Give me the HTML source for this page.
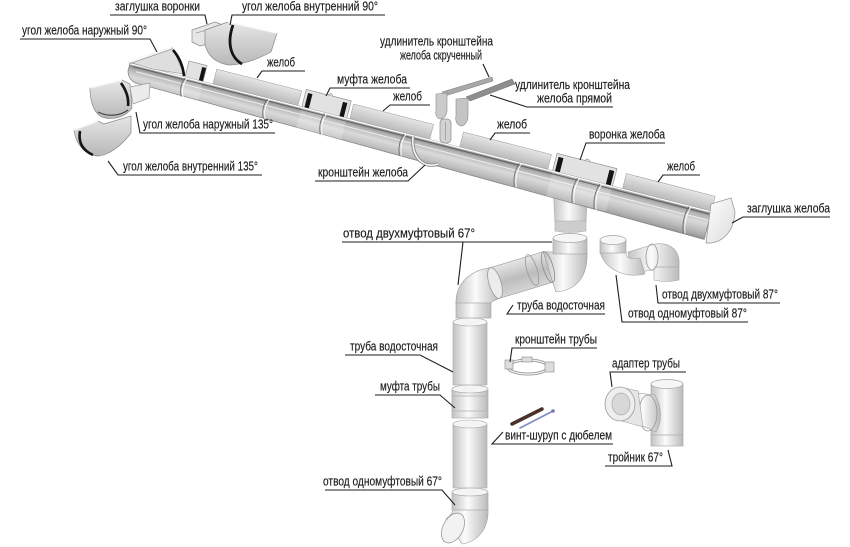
<!DOCTYPE html>
<html><head><meta charset="utf-8"><style>
html,body{margin:0;padding:0;background:#fff;}
svg{display:block}
text{font-family:"Liberation Sans",Arial,sans-serif;font-size:12.8px;fill:#1a1a1a;stroke:#1a1a1a;stroke-width:0.15;}
</style></head><body>
<svg width="850" height="547" viewBox="0 0 850 547" xmlns="http://www.w3.org/2000/svg">
<defs>
<linearGradient id="gb" x1="0" y1="0" x2="0" y2="1">
 <stop offset="0" stop-color="#f0f0f0"/>
 <stop offset="0.09" stop-color="#8a8a8a"/>
 <stop offset="0.2" stop-color="#b4b4b4"/>
 <stop offset="0.45" stop-color="#dadada"/>
 <stop offset="0.7" stop-color="#c0c0c0"/>
 <stop offset="0.9" stop-color="#a6a6a6"/>
 <stop offset="1" stop-color="#8a8a8a"/>
</linearGradient>
<linearGradient id="gw" x1="0" y1="0" x2="0" y2="1">
 <stop offset="0" stop-color="#e6e6e6"/><stop offset="1" stop-color="#b8b8b8"/>
</linearGradient>
<linearGradient id="pg" x1="0" y1="0" x2="1" y2="0">
 <stop offset="0" stop-color="#c2c2c2"/><stop offset="0.45" stop-color="#fbfbfb"/><stop offset="1" stop-color="#bababa"/>
</linearGradient>
<linearGradient id="pdg" gradientUnits="userSpaceOnUse" x1="511" y1="263" x2="520" y2="293">
 <stop offset="0" stop-color="#e2e2e2"/><stop offset="0.5" stop-color="#bdbdbd"/><stop offset="1" stop-color="#d6d6d6"/>
</linearGradient>
<linearGradient id="cap" x1="0" y1="0" x2="1" y2="1">
 <stop offset="0" stop-color="#ffffff"/><stop offset="1" stop-color="#dcdcdc"/>
</linearGradient>
</defs>

<!-- funnel outlet (behind gutter) -->
<path d="M553,185 L588,185 L586,222 L555,222 Z" fill="url(#pg)" stroke="#aaa" stroke-width="0.6"/>
<path d="M555,221 L586,221 L586,231 Q570,234 555,231 Z" fill="#cdcdcd" stroke="#aaa" stroke-width="0.6"/>

<!-- main gutter -->
<g transform="translate(130,63) rotate(14.31)">
 <g fill="url(#gw)" stroke="#9a9a9a" stroke-width="0.5">
  <rect x="85.6" y="-15.5" width="87.6" height="16"/>
  <rect x="226.8" y="-15.5" width="82.5" height="16"/>
  <rect x="340.2" y="-15.5" width="90.8" height="16"/>
  <rect x="508.3" y="-15.5" width="91.7" height="16"/>
 </g>
 <g fill="#e2e2e2" stroke="#8a8a8a" stroke-width="0.6">
  <rect x="56.7" y="-16.5" width="18.6" height="18"/>
  <rect x="177.3" y="-18" width="46.4" height="19"/>
  <rect x="436.1" y="-18" width="61.9" height="19"/>
 </g>
 <g fill="#151515">
  <rect x="71" y="-14" width="4" height="14"/>
  <rect x="180" y="-15" width="4.5" height="15"/>
  <rect x="216" y="-15" width="4.5" height="15"/>
  <rect x="438.5" y="-15" width="5" height="15"/>
  <rect x="491" y="-15" width="5" height="15"/>
 </g>
 <path d="M200,-18 q2,-4 5,0" fill="#ddd" stroke="#888" stroke-width="0.6"/>
 <path d="M465,-18 q2,-4 5,0" fill="#ddd" stroke="#888" stroke-width="0.6"/>
 <path d="M0,0 L600,0 L600,29 L10,18 Q2,16 0,8 Z" fill="url(#gb)" stroke="#808080" stroke-width="0.7"/>
 <g fill="#ffffff" opacity="0.22">
  <rect x="177.3" y="0" width="46.4" height="22"/>
  <rect x="436.1" y="0" width="61.9" height="26"/>
  <rect x="56.7" y="0" width="18.6" height="19"/>
 </g>
 <line x1="0" y1="0.6" x2="600" y2="0.6" stroke="#ffffff" stroke-width="1.2"/>
 <line x1="4" y1="2.6" x2="600" y2="3.2" stroke="#5e5e5e" stroke-width="0.9"/>
 <line x1="8" y1="7" x2="600" y2="9.5" stroke="#eeeeee" stroke-width="1"/>
 <g fill="none" stroke="#6e6e6e" stroke-width="0.9">
  <path d="M57,1 Q53,10 58,20"/>
  <path d="M142,1 Q138,11 143,21"/>
  <path d="M201,1 Q197,11 202,22"/>
  <path d="M283,1 Q279,12 284,23"/>
  <path d="M402,1 Q398,13 403,25"/>
  <path d="M462,1 Q458,13 463,26"/>
  <path d="M485,1 Q481,14 486,27"/>
  <path d="M577,1 Q573,14 578,28"/>
 </g>
 <g fill="none" stroke="#ffffff" stroke-width="0.9">
  <path d="M59,1 Q55,10 60,20"/>
  <path d="M144,1 Q140,11 145,21"/>
  <path d="M203,1 Q199,11 204,22"/>
  <path d="M285,1 Q281,12 286,23"/>
  <path d="M404,1 Q400,13 405,25"/>
  <path d="M464,1 Q460,13 465,26"/>
  <path d="M487,1 Q483,14 488,27"/>
  <path d="M579,1 Q575,14 580,28"/>
 </g>
</g>

<!-- outer 90 corner on gutter -->
<path d="M129,62 L172,47 L184,74 L152,69 Z" fill="#dedede" stroke="#8a8a8a" stroke-width="0.6"/>
<path d="M129,62 L172,47" stroke="#f8f8f8" stroke-width="2"/>
<path d="M129,64 L172,49" stroke="#888" stroke-width="0.6"/>
<path d="M173,50 C180,58 183,66 184,76" fill="none" stroke="#111" stroke-width="2.6"/>

<!-- end cap -->
<path d="M711,204 L731,198 L735,212 C734,232 722,244 706,243 Z" fill="url(#cap)" stroke="#9a9a9a" stroke-width="0.8"/>

<!-- gutter bracket hook -->
<path d="M413,136 C411,158 424,169 438,164" fill="none" stroke="#8a8a8a" stroke-width="3.4"/>
<path d="M413,136 C411,158 424,169 438,164" fill="none" stroke="#f4f4f4" stroke-width="1.6"/>
<rect x="440" y="119" width="11" height="24" rx="4" fill="#d2d2d2" stroke="#8a8a8a" stroke-width="0.7"/>
<line x1="445.5" y1="122" x2="445.5" y2="140" stroke="#999" stroke-width="0.8"/>

<!-- bracket extensions -->
<polygon points="442,92 492,77 493,81 445,96" fill="#a8a8a8" stroke="#7a7a7a" stroke-width="0.5"/>
<path d="M436,94 L447,93 L447,110 C447,117 442,119 440,119 C437,118 435,115 436,110 Z" fill="#cacaca" stroke="#8a8a8a" stroke-width="0.6"/>
<polygon points="466,97 512,79 515,84 470,101" fill="#8e8e8e" stroke="#6a6a6a" stroke-width="0.5"/>
<path d="M456,99 L468,98 L468,116 C468,123 463,126 461,126 C457,125 455,121 456,116 Z" fill="#c4c4c4" stroke="#8a8a8a" stroke-width="0.6"/>

<!-- top pieces -->
<path d="M192,30 L215,22 L223,25 L223,40 L200,46 L192,42 Z" fill="#e6e6e6" stroke="#8a8a8a" stroke-width="0.7"/>
<path d="M196,33 L218,27" stroke="#9a9a9a" stroke-width="0.7"/>
<path d="M205,30 L228,22 L277,33 L271,52 C256,60 241,65 229,65 C216,63 208,56 205,45 Z" fill="url(#gw)" stroke="#888" stroke-width="0.7"/>
<path d="M228,22 L277,33" stroke="#fafafa" stroke-width="1.5"/>
<path d="M233,25 C227,42 230,57 242,64" fill="none" stroke="#141414" stroke-width="2.8"/>

<!-- outer 135 -->
<path d="M90,88 L122,80 L130,84 L132,108 C125,118 110,121 100,116 C93,111 90,100 90,88 Z" fill="url(#gw)" stroke="#888" stroke-width="0.7"/>
<path d="M90,88 L122,80" stroke="#f6f6f6" stroke-width="1.6"/>
<path d="M121,83 C126,90 129,98 128,106" fill="none" stroke="#141414" stroke-width="2.6"/>
<path d="M98,112 C108,117 120,116 128,110" fill="none" stroke="#444" stroke-width="1.2"/>
<path d="M130,87 L150,83 L149,98 L133,104 Z" fill="#ececec" stroke="#999" stroke-width="0.7"/>

<!-- inner 135 -->
<path d="M74,130 L98,121 L104,124 L131,116 L131,133 C122,145 110,155 98,156 C85,155 76,145 74,130 Z" fill="url(#gw)" stroke="#888" stroke-width="0.7"/>
<path d="M74,130 L98,121" stroke="#f6f6f6" stroke-width="1.6"/>
<path d="M80,131 C78,142 82,150 93,155" fill="none" stroke="#141414" stroke-width="2.6"/>

<!-- downpipe assembly -->
<polygon points="490.3,267.7 543.3,251.7 552.7,282.3 499.7,298.3" fill="url(#pdg)" stroke="#9a9a9a" stroke-width="0.6"/>
<ellipse cx="532" cy="270" rx="5" ry="16" transform="rotate(-17 532 270)" fill="none" stroke="#999" stroke-width="0.8"/>
<path d="M553,252 L587,252 C588,275 578,290 556,292 L552.7,282.3 L543.3,251.7 Z" fill="url(#pg)" stroke="#9a9a9a" stroke-width="0.6"/>
<ellipse cx="548" cy="267" rx="5" ry="16" transform="rotate(-17 548 267)" fill="none" stroke="#888" stroke-width="0.8"/>
<rect x="553" y="238" width="34" height="16" fill="url(#pg)" stroke="#a0a0a0" stroke-width="0.6"/>
<ellipse cx="570" cy="238" rx="17" ry="4.5" fill="#f6f6f6" stroke="#a0a0a0" stroke-width="0.7"/>
<path d="M490.3,267.7 L499.7,298.3 C494,300 490,302 490,305 L456,305 C455,285 468,271 490.3,267.7 Z" fill="url(#pg)" stroke="#9a9a9a" stroke-width="0.6"/>
<ellipse cx="495" cy="283" rx="6" ry="16" transform="rotate(-17 495 283)" fill="#ececec" stroke="#999" stroke-width="0.8"/>
<rect x="456" y="303" width="35" height="15" fill="url(#pg)" stroke="#a0a0a0" stroke-width="0.6"/>
<rect x="453" y="322" width="34" height="63" fill="url(#pg)" stroke="#a8a8a8" stroke-width="0.6"/>
<ellipse cx="470" cy="322" rx="17" ry="4" fill="#f4f4f4" stroke="#a8a8a8" stroke-width="0.6"/>
<rect x="452" y="389" width="36" height="29" fill="url(#pg)" stroke="#a0a0a0" stroke-width="0.6"/>
<ellipse cx="470" cy="389" rx="18" ry="4" fill="#f4f4f4" stroke="#a0a0a0" stroke-width="0.6"/>
<line x1="452" y1="396" x2="488" y2="396" stroke="#b0b0b0" stroke-width="0.8"/>
<line x1="452" y1="411" x2="488" y2="411" stroke="#b0b0b0" stroke-width="0.8"/>
<rect x="453" y="424" width="34" height="64" fill="url(#pg)" stroke="#a8a8a8" stroke-width="0.6"/>
<ellipse cx="470" cy="424" rx="17" ry="4" fill="#f4f4f4" stroke="#a8a8a8" stroke-width="0.6"/>
<path d="M453,509 L488,509 C489,528 478,542 462,544 L446,519 C450,516 453,513 453,509 Z" fill="url(#pg)" stroke="#a0a0a0" stroke-width="0.6"/>
<rect x="452" y="492" width="36" height="18" fill="url(#pg)" stroke="#a0a0a0" stroke-width="0.6"/>
<ellipse cx="470" cy="492" rx="18" ry="4" fill="#f4f4f4" stroke="#a0a0a0" stroke-width="0.6"/>
<ellipse cx="453" cy="528" rx="10" ry="16" transform="rotate(28 453 528)" fill="#f2f2f2" stroke="#9a9a9a" stroke-width="0.8"/>

<!-- right elbows 87 -->
<path d="M628,252 L655,244 C672,242 680,252 679,265 L679,280 Q666,283 654,280 L654,270 C648,270 640,272 632,274 Z" fill="url(#pg)" stroke="#a0a0a0" stroke-width="0.6"/>
<ellipse cx="652" cy="257" rx="6" ry="13" fill="none" stroke="#999" stroke-width="0.8"/>
<line x1="654" y1="267" x2="679" y2="267" stroke="#aaa" stroke-width="0.7"/>
<path d="M600,252 L626,252 C626,258 630,260 640,258 L645,274 C628,278 606,272 600,252 Z" fill="url(#pg)" stroke="#a0a0a0" stroke-width="0.6"/>
<rect x="600" y="240" width="26" height="13" fill="url(#pg)" stroke="#a0a0a0" stroke-width="0.6"/>
<ellipse cx="613" cy="240" rx="13" ry="4.5" fill="#f6f6f6" stroke="#a0a0a0" stroke-width="0.7"/>

<!-- pipe bracket -->
<ellipse cx="528" cy="367" rx="20" ry="7" fill="none" stroke="#9a9a9a" stroke-width="3"/>
<ellipse cx="528" cy="367" rx="20" ry="7" fill="none" stroke="#f2f2f2" stroke-width="1.2"/>
<rect x="505" y="360" width="8" height="9" fill="#ddd" stroke="#888" stroke-width="0.6"/>
<rect x="545" y="362" width="9" height="10" fill="#ddd" stroke="#888" stroke-width="0.6"/>
<rect x="522" y="357" width="10" height="5" fill="#ddd" stroke="#888" stroke-width="0.6"/>

<!-- screw + dowel -->
<line x1="512" y1="424" x2="542" y2="409" stroke="#4a3228" stroke-width="3.5" stroke-linecap="round"/>
<line x1="520" y1="428" x2="553" y2="411" stroke="#7d8cc0" stroke-width="1.6" stroke-linecap="round"/>
<circle cx="553" cy="411" r="1.8" fill="#6a7ab0"/>

<!-- tee + adapter -->
<rect x="651" y="384" width="32" height="62" fill="url(#pg)" stroke="#a0a0a0" stroke-width="0.6"/>
<ellipse cx="667" cy="384" rx="16" ry="4.5" fill="#f6f6f6" stroke="#a0a0a0" stroke-width="0.7"/>
<line x1="651" y1="435" x2="683" y2="435" stroke="#aaa" stroke-width="0.7"/>
<path d="M628,392 L655,395 C661,405 663,420 656,432 L632,421 Z" fill="url(#pg)" stroke="#a0a0a0" stroke-width="0.6"/>
<ellipse cx="648" cy="413" rx="9" ry="18" fill="none" stroke="#999" stroke-width="0.8"/>
<path d="M620,387 L638,391 L643,427 L622,421 Z" fill="#e6e6e6" stroke="#a0a0a0" stroke-width="0.6"/>
<ellipse cx="620" cy="404" rx="15" ry="17" fill="#eeeeee" stroke="#999" stroke-width="0.8"/>
<ellipse cx="621" cy="404" rx="9" ry="11" fill="#d8d8d8" stroke="#aaa" stroke-width="0.7"/>

<!-- leaders -->
<g fill="none" stroke="#1e1e1e" stroke-width="1.1">
 <polyline points="110,15 205,15 207,24"/>
 <polyline points="385,15 232,15 230,25"/>
 <polyline points="20,39 150,39 157,52"/>
 <polyline points="305,71 262,71 257,78"/>
 <polyline points="410,88 330,88 326,96"/>
 <polyline points="430,105 390,105 383,111"/>
 <polyline points="483,64 489,77"/>
 <polyline points="613,107 527,107 490,95"/>
 <polyline points="275,133 140,133 136,112"/>
 <polyline points="262,175 118,175 108,161"/>
 <polyline points="315,181 408,181 425,165"/>
 <polyline points="530,133 495,133 490,140"/>
 <polyline points="665,143 586,143 580,160"/>
 <polyline points="700,175 663,175 658,182"/>
 <polyline points="830,217 743,217 732,223"/>
 <polyline points="342,242 552,242"/>
 <polyline points="463,242 458,285"/>
 <polyline points="605,314 507,314 513,305"/>
 <polyline points="780,303 658,303 656,285"/>
 <polyline points="748,322 622,322 616,275"/>
 <polyline points="345,355 420,355 453,372"/>
 <polyline points="597,348 512,348 510,362"/>
 <polyline points="686,372 610,372 612,387"/>
 <polyline points="375,395 440,395 455,408"/>
 <polyline points="613,444 492,444 503,432"/>
 <polyline points="605,466 672,466 668,450"/>
 <polyline points="325,490 442,490 455,505"/>
</g>

<!-- labels -->
<text x="115" y="10.5" textLength="85" lengthAdjust="spacingAndGlyphs">заглушка воронки</text>
<text x="242" y="10.5" textLength="136" lengthAdjust="spacingAndGlyphs">угол желоба внутренний 90°</text>
<text x="22" y="34.5" textLength="125" lengthAdjust="spacingAndGlyphs">угол желоба наружный 90°</text>
<text x="267" y="66.5" textLength="28" lengthAdjust="spacingAndGlyphs">желоб</text>
<text x="337" y="83.5" textLength="70" lengthAdjust="spacingAndGlyphs">муфта желоба</text>
<text x="393" y="100.5" textLength="29" lengthAdjust="spacingAndGlyphs">желоб</text>
<text x="380" y="45.5" textLength="113" lengthAdjust="spacingAndGlyphs">удлинитель кронштейна</text>
<text x="400" y="59.5" textLength="82" lengthAdjust="spacingAndGlyphs">желоба скрученный</text>
<text x="515" y="89" textLength="115" lengthAdjust="spacingAndGlyphs">удлинитель кронштейна</text>
<text x="537" y="102.5" textLength="75" lengthAdjust="spacingAndGlyphs">желоба прямой</text>
<text x="143" y="128.5" textLength="130" lengthAdjust="spacingAndGlyphs">угол желоба наружный 135°</text>
<text x="123" y="170.5" textLength="135" lengthAdjust="spacingAndGlyphs">угол желоба внутренний 135°</text>
<text x="318" y="176.5" textLength="90" lengthAdjust="spacingAndGlyphs">кронштейн желоба</text>
<text x="497" y="128.5" textLength="30" lengthAdjust="spacingAndGlyphs">желоб</text>
<text x="589" y="138.5" textLength="76" lengthAdjust="spacingAndGlyphs">воронка желоба</text>
<text x="667" y="170.5" textLength="28" lengthAdjust="spacingAndGlyphs">желоб</text>
<text x="747" y="212.5" textLength="83" lengthAdjust="spacingAndGlyphs">заглушка желоба</text>
<text x="343" y="237.5" textLength="132" lengthAdjust="spacingAndGlyphs">отвод двухмуфтовый 67°</text>
<text x="517" y="309.5" textLength="88" lengthAdjust="spacingAndGlyphs">труба водосточная</text>
<text x="662" y="298.5" textLength="116" lengthAdjust="spacingAndGlyphs">отвод двухмуфтовый 87°</text>
<text x="628" y="317.5" textLength="119" lengthAdjust="spacingAndGlyphs">отвод одномуфтовый 87°</text>
<text x="350" y="350.5" textLength="88" lengthAdjust="spacingAndGlyphs">труба водосточная</text>
<text x="515" y="343.5" textLength="82" lengthAdjust="spacingAndGlyphs">кронштейн трубы</text>
<text x="612" y="367.5" textLength="68" lengthAdjust="spacingAndGlyphs">адаптер трубы</text>
<text x="380" y="390.5" textLength="60" lengthAdjust="spacingAndGlyphs">муфта трубы</text>
<text x="505" y="439.5" textLength="107" lengthAdjust="spacingAndGlyphs">винт-шуруп с дюбелем</text>
<text x="608" y="461.5" textLength="55" lengthAdjust="spacingAndGlyphs">тройник 67°</text>
<text x="323" y="485.5" textLength="119" lengthAdjust="spacingAndGlyphs">отвод одномуфтовый 67°</text>
</svg>
</body></html>
